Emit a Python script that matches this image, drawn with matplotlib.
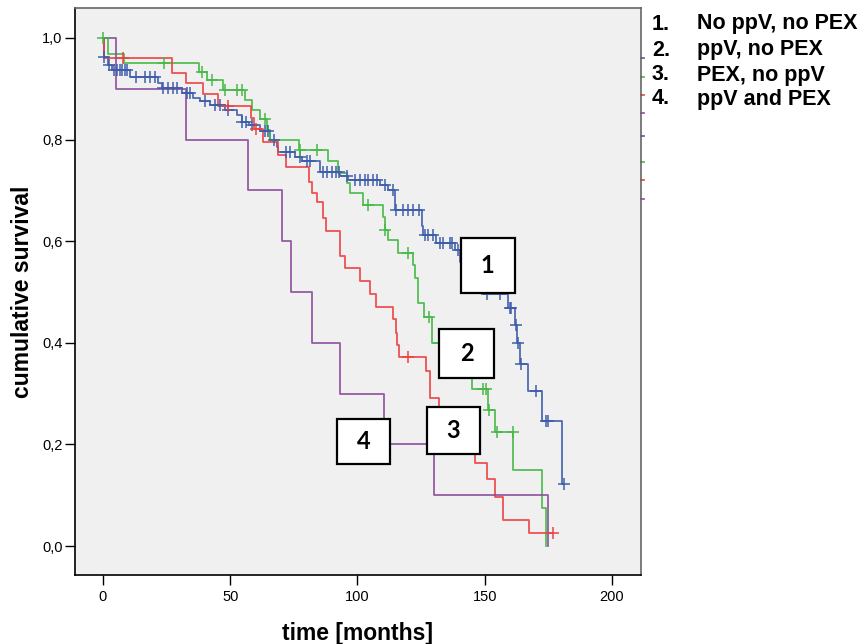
import matplotlib
matplotlib.use("Agg")
import matplotlib.pyplot as plt
from matplotlib.patches import Rectangle
from matplotlib.ticker import FuncFormatter
import numpy as np

#--- Kaplan-Meier steps (time in months, survival after each event)
g1_times = [0, 0.2, 2.0, 3.5, 10.5, 21.7, 23, 30.9, 35.5, 38, 42, 48, 52.5, 54.5, 57.5, 61.7,
            65.6, 68.2, 68.9, 75.4, 78, 85.3, 93.1, 96.4, 108.8, 112, 114.7, 125.2, 125.8,
            131, 138.3, 140.3, 144, 147, 149.4, 159.3, 161.9, 162.8, 163.9, 167.1, 172.4, 180.2]
g1_surv = [1.0, 0.963, 0.947, 0.937, 0.924, 0.911, 0.901, 0.891, 0.881, 0.875, 0.868, 0.858, 0.848,
           0.835, 0.829, 0.816, 0.799, 0.786, 0.776, 0.766, 0.757, 0.737, 0.728, 0.72, 0.711, 0.70,
           0.661, 0.63, 0.613, 0.596, 0.583, 0.56, 0.54, 0.52, 0.496, 0.468, 0.435, 0.40, 0.358,
           0.306, 0.246, 0.123]
g1_cens = [0.5, 2.5, 4.5, 5.5, 6.5, 7.5, 8.5, 9.5, 13, 16.5, 18.5, 20.4, 23.7, 25.7, 27.6, 29.2,
           32.9, 34.2, 40, 44, 46, 49, 54.8, 56, 58.5, 63.6, 65, 67, 72.1, 73.5, 77.4, 80, 81.3,
           86.6, 88.1, 89.8, 91.4, 92.7, 95.8, 99, 101, 103, 104.3, 106.2, 107.5, 110.8, 114,
           115.3, 118, 120, 122, 124, 126.5, 127.8, 129.8, 132.4, 133.7, 136.3, 137, 139.6,
           151, 156, 159.8, 160.5, 162.2, 163.2, 164.3, 170.1, 174, 175, 181]

g2_times = [0, 2.0, 8.4, 37.8, 40.7, 47, 55.8, 58.5, 61.7, 64.3, 65.6, 77, 88.6, 92.5, 96, 97,
            102, 110, 110.8, 112, 116, 121.8, 122.6, 123.9, 126.1, 129.2, 138, 145, 151.4,
            154.2, 161.3, 172.4, 174]
g2_surv = [1.0, 0.968, 0.951, 0.934, 0.917, 0.898, 0.878, 0.858, 0.84, 0.819, 0.80, 0.78, 0.757,
           0.734, 0.714, 0.694, 0.671, 0.647, 0.622, 0.602, 0.577, 0.553, 0.527, 0.478, 0.451,
           0.399, 0.36, 0.309, 0.268, 0.224, 0.15, 0.074, 0.0]
g2_cens = [0, 24, 39, 43, 48, 52.5, 54.5, 63.6, 77.5, 84, 104, 111, 120, 128, 132, 149.5, 150.5,
           151.6, 155, 161]

g3_times = [0, 0.5, 27, 32.5, 39.4, 45, 58, 59.5, 63, 68.8, 72, 81, 82, 84, 86.5, 87.5, 93, 95,
            101, 105, 107.3, 114, 115, 115.5, 116.3, 127, 128.5, 132, 139, 146.2, 150.7, 154,
            157, 167.4]
g3_surv = [1.0, 0.96, 0.932, 0.912, 0.889, 0.866, 0.843, 0.82, 0.796, 0.77, 0.747, 0.717, 0.695,
           0.678, 0.645, 0.62, 0.57, 0.547, 0.522, 0.496, 0.471, 0.447, 0.42, 0.396, 0.373,
           0.345, 0.291, 0.26, 0.22, 0.163, 0.132, 0.097, 0.051, 0.026]
g3_cens = [8, 49, 60, 120, 176.7]

g4_times = [0, 5, 32.5, 57, 70.5, 74, 82, 93, 110.5, 130, 175]
g4_surv = [1.0, 0.9, 0.8, 0.7, 0.6, 0.5, 0.4, 0.3, 0.2, 0.1, 0.0]
g4_cens = []

legend_nums = ["1.", "2.", "3.", "4."]
legend_names = ["No ppV, no PEX", "ppV, no PEX", "PEX, no ppV", "ppV and PEX"]

colors = ["#3d5daa", "#45b845", "#ee4040", "#8c4a98"]

groups = [(g1_times, g1_surv, g1_cens), (g2_times, g2_surv, g2_cens),
          (g3_times, g3_surv, g3_cens), (g4_times, g4_surv, g4_cens)]

fig = plt.figure(figsize=(8.66, 6.44), dpi=100)
ax = fig.add_axes([75 / 866, 1 - 575 / 644, (641 - 75) / 866, (575 - 8) / 644])
ax.set_facecolor("#f0f0f0")

for (t, s, c), col in zip(groups, colors):
    t = np.array(t, dtype=float)
    s = np.array(s, dtype=float)
    c = np.array(c, dtype=float)
    # extend the last level to the last censored time
    t_end = max(t[-1], c.max() if len(c) else t[-1])
    tt = np.append(t, t_end)
    ss = np.append(s, s[-1])
    ax.step(tt, ss, where="post", color=col, lw=1.3, alpha=0.9, zorder=3)
    if len(c):
        idx = np.searchsorted(t, c, side="right") - 1
        ax.plot(c, s[idx], ls="none", marker="+", ms=9, mew=1.2, color=col, alpha=0.9, zorder=4)

#--- Number boxes on the curves
boxes = [("1", 140.7, 0.499), ("2", 132.2, 0.330), ("3", 127.2, 0.182), ("4", 91.9, 0.161)]
box_w, box_h = [21.0, 21.5, 21.0, 21.0], [0.108, 0.097, 0.092, 0.089]
for (lab, bx, by), w, h in zip(boxes, box_w, box_h):
    ax.add_patch(Rectangle((bx, by), w, h, facecolor="white", edgecolor="black", lw=1.6, zorder=6))
    ax.text(bx + w / 2, by + h / 2, lab, ha="center", va="center", fontsize=17,
            fontweight="bold", family="Lato", zorder=7)

ax.set_xlim(-11, 211.4)
ax.set_ylim(-0.057, 1.059)
ax.set_xticks([0, 50, 100, 150, 200])
ax.set_yticks([0.0, 0.2, 0.4, 0.6, 0.8, 1.0])
ax.yaxis.set_major_formatter(FuncFormatter(lambda v, p: f"{v:.1f}".replace(".", ",")))
ax.tick_params(direction="out", length=7, width=1, labelsize=10.5, colors="black")
for lab in ax.get_xticklabels() + ax.get_yticklabels():
    lab.set_family("Liberation Sans")
ax.tick_params(axis="x", pad=4)
ax.tick_params(axis="y", pad=2)
for side in ["left", "bottom"]:
    ax.spines[side].set_color("black")
    ax.spines[side].set_linewidth(1.2)
for side in ["top", "right"]:
    ax.spines[side].set_color("#666666")
    ax.spines[side].set_linewidth(1.2)

ax.set_xlabel("time [months]", fontsize=16.5, fontweight="bold", family="Liberation Sans", labelpad=13)
ax.set_ylabel("cumulative survival", fontsize=16.5, fontweight="bold", family="Liberation Sans", labelpad=6)

#--- small coloured marks on the right frame (leftover legend keys)
mark_y = [58, 77, 95, 113, 136, 162, 180, 199]
for i, y in enumerate(mark_y):
    fy = (575 - y) / 567
    ax.plot([1.0, 1.006], [fy, fy], transform=ax.transAxes, color=colors[i % 4], lw=1.2, clip_on=False)

#--- group legend text at the right
leg_y = [24, 50, 75, 99]
for num, name, y in zip(legend_nums, legend_names, leg_y):
    fy = 1 - y / 644
    fig.text(652 / 866, fy, num, fontsize=15.5, fontweight="bold", family="Liberation Sans", va="center")
    fig.text(697 / 866, fy, name, fontsize=15.5, fontweight="bold", family="Liberation Sans", va="center")

fig.savefig("out.png", dpi=100)
